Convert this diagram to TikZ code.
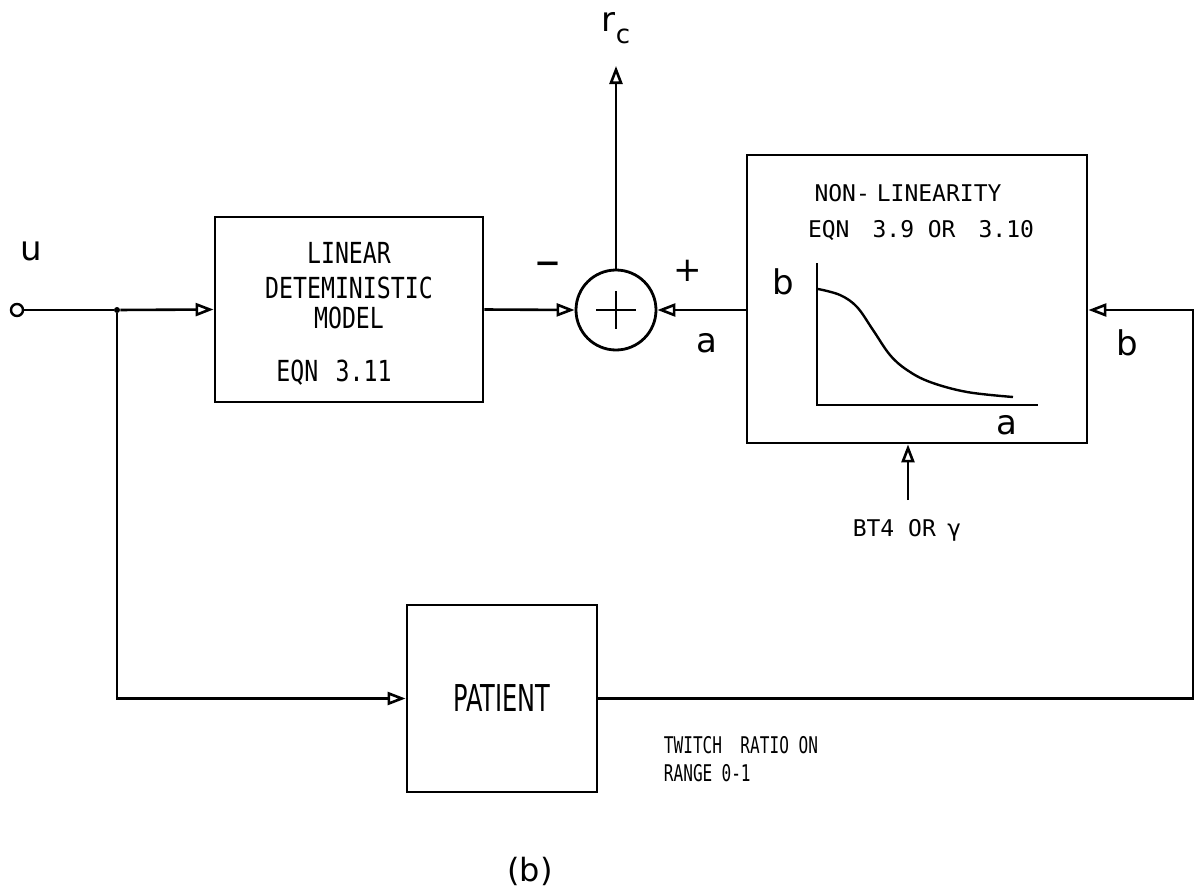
\documentclass[tikz,border=0pt]{standalone}
\usepackage{fontspec}
\setmainfont{DejaVu Sans}
\newfontfamily\lettering[FakeStretch=0.8]{DejaVu Sans Mono}
\newfontfamily\letteringnarrow[FakeStretch=0.7]{DejaVu Sans Mono}
\newfontfamily\letteringwide{DejaVu Sans Mono}
\newfontfamily\patientfont[FakeStretch=0.65]{DejaVu Sans}
\usetikzlibrary{positioning, arrows.meta, calc}

\begin{document}
\begin{tikzpicture}[x=0.5pt, y=-0.5pt,
    block/.style={draw, line width=1.4pt, inner sep=0pt},
    sig/.style={-{Triangle[open, length=9pt, width=6.5pt]}, line width=1.3pt},
    stencil/.style={font=\lettering\fontsize{14.5}{16}\selectfont},
    stencilsmall/.style={font=\letteringwide\fontsize{11.5}{13}\selectfont},
    var/.style={font=\fontsize{17}{19}\selectfont}]
    \useasboundingbox (0,0) rectangle (1196,894);

    % blocks
    \node[block, minimum width=134pt, minimum height=92.5pt] (lin) at (349,309.5) {};
    \node[block, circle, minimum size=40pt] (sum) at (616,310) {};
    \node[block, minimum width=170pt, minimum height=144pt] (nl) at (917,299) {};
    \node[block, minimum width=95pt, minimum height=93.5pt,
          font=\patientfont\fontsize{18.5}{20}\selectfont] (pat) at (502,698.5) {PATIENT};

    % text of the linear block
    \node[stencil] (linA) at (349,253) {LINEAR};
    \node[stencil] (linB) at (349,288) {DETEMINISTIC};
    \node[stencil] (linC) at (349,318) {MODEL};
    \node[stencil] (linD) at (334,373) {EQN\hspace{0.6em}3.11};

    % text and sketch of the non-linearity
    \node[stencilsmall] (nlA) at (908,193) {NON-\hspace{0.3em}LINEARITY};
    \node[stencilsmall] (nlB) at (921,230) {EQN\hspace{1em}3.9\hspace{0.6em}OR\hspace{1em}3.10};
    \draw[line width=1.3pt] (817,263) -- (817,405) -- (1038,405);
    \draw[line width=1.2pt] plot[smooth, tension=0.6] coordinates
        {(818,289) (840,295) (857,307) (873,330) (890,355) (907,370) (930,382) (967,392) (1013,397)};
    \node[var] (nlb) at (783,282) {b};
    \node[var] (nla) at (1007,425) {a};

    % summing junction
    \draw[line width=1.2pt] (sum.center) ++(-20,0) -- ++(40,0);
    \draw[line width=1.2pt] (sum.center) ++(0,-19) -- ++(0,38);
    \node[font=\fontsize{25}{27}\selectfont] (minus) at (548,270) {–};
    \node[font=\fontsize{17}{19}\selectfont] (plus) at (688,271) {+};

    % input
    \node[draw, circle, minimum size=6pt, inner sep=0pt, line width=1.2pt] (uin) at (17,310) {};
    \node[circle, fill, minimum size=3pt, inner sep=0pt] (jn) at (117,310) {};
    \node[var] (ulab) at (31,251) {u};
    \draw[line width=1.3pt] (uin) -- (jn);
    \draw[sig] (jn) -- (lin.west);
    \draw[sig] (jn) |- (pat.west);

    % forward path
    \draw[sig] (lin.east) -- (sum.west);
    \node[var] (alab) at (707,343) {a};
    \draw[sig] (sum.east -| nl.west) -- (sum.east);
    \coordinate (rctip) at (616,66);
    \draw[sig] (sum.north) -- (rctip);
    \node[var] (rc) at (616,28) {r\raisebox{-0.35em}{\fontsize{13}{13}\selectfont c}};

    % feedback of twitch ratio
    \coordinate (fb) at (1193,310);
    \draw[sig] (pat.east) -| (fb) -- (fb -| nl.east);
    \node[var] (blab) at (1127,343) {b};
    \node[font=\letteringnarrow\fontsize{11.5}{14}\selectfont, align=left] (tw) at (741,759)
        {TWITCH\hspace{0.8em}RATIO ON\\RANGE\hspace{0.4em}0-1};

    % parameter input
    \node[stencilsmall] (bt) at (907,530) {BT4 OR\hspace{0.5em}γ};
    \coordinate (btin) at (908,500);
    \draw[sig] (btin) -- (btin |- nl.south);

    \node[font=\fontsize{16}{18}\selectfont] (cap) at (530,871) {(b)};
\end{tikzpicture}
\end{document}
